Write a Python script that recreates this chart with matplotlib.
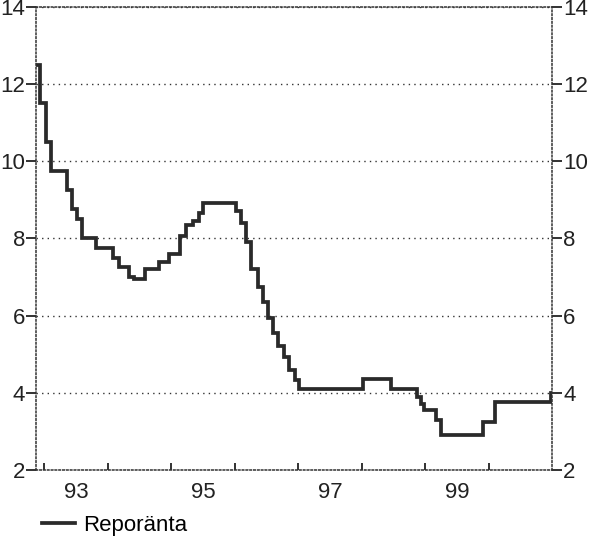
import matplotlib.pyplot as plt

# repo rate, step changes (decimal year of change, new level)
dates = [1992.87, 1992.94, 1993.03, 1993.11, 1993.35, 1993.44, 1993.52, 1993.60,
         1993.82, 1994.09, 1994.17, 1994.34, 1994.42, 1994.59, 1994.81, 1994.97,
         1995.14, 1995.24, 1995.35, 1995.43, 1995.50, 1996.02, 1996.10, 1996.18,
         1996.26, 1996.37, 1996.45, 1996.53, 1996.61, 1996.69, 1996.78, 1996.86,
         1996.95, 1997.02, 1998.02, 1998.46, 1998.87, 1998.94, 1998.98, 1999.17,
         1999.25, 1999.91, 2000.10, 2000.98, 2001.0]
rates = [12.5, 11.5, 10.5, 9.75, 9.25, 8.75, 8.5, 8.0,
         7.75, 7.5, 7.25, 7.0, 6.95, 7.2, 7.4, 7.6,
         8.05, 8.35, 8.45, 8.65, 8.91, 8.7, 8.4, 7.9,
         7.2, 6.75, 6.35, 5.95, 5.55, 5.2, 4.93, 4.6,
         4.34, 4.1, 4.35, 4.1, 3.9, 3.7, 3.55, 3.3,
         2.9, 3.25, 3.75, 4.0, 4.0]

year_ticks = [1993, 1994, 1995, 1996, 1997, 1998, 1999, 2000]
label_pos = [1993.5, 1995.5, 1997.5, 1999.5]
labels = ["93", "95", "97", "99"]
y_ticks = [2, 4, 6, 8, 10, 12, 14]

plt.rcParams["font.family"] = ["Liberation Sans", "DejaVu Sans"]

fig = plt.figure(figsize=(5.91, 5.37), dpi=100)
ax = fig.add_axes([0.061, 0.125, 0.873, 0.862])

ax.step(dates, rates, where="post", color="#2a2a2a", linewidth=2.7,
        label="Reporänta", solid_joinstyle="miter")

ax.set_xlim(1992.87, 2001.0)
ax.set_ylim(2, 14)

ax.set_yticks(y_ticks)
ax.tick_params(axis="y", which="both", left=True, right=True, labelleft=True,
               labelright=True, direction="out", length=7, width=1.3,
               labelsize=16, pad=1, colors="#222222")

ax.set_xticks(label_pos)
ax.set_xticklabels(labels)
ax.set_xticks(year_ticks, minor=True)
ax.tick_params(axis="x", which="major", length=0, labelsize=16, pad=9,
               colors="#222222")
ax.tick_params(axis="x", which="minor", direction="in", length=5, width=1.3,
               color="#222222")

ax.grid(axis="y", linestyle=(0, (1, 3)), color="#333333", linewidth=1.0)
for s in ax.spines.values():
    s.set_linestyle((0, (1, 1.5)))
    s.set_linewidth(1.1)
    s.set_color("#333333")

fig.legend(loc="lower left", bbox_to_anchor=(0.037, -0.035), frameon=False,
           fontsize=16, handlelength=1.5, handletextpad=0.35)

fig.savefig("out.png", dpi=100)
